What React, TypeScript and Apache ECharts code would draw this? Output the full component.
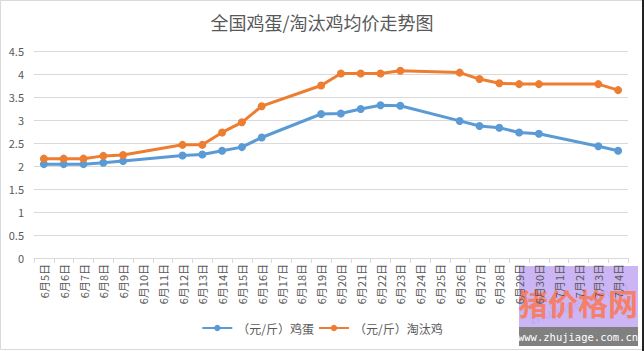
import React, { useEffect, useRef } from "react";
import * as echarts from "echarts";

const categories = [
  "6月5日", "6月6日", "6月7日", "6月8日", "6月9日", "6月10日", "6月11日", "6月12日", "6月13日", "6月14日",
  "6月15日", "6月16日", "6月17日", "6月18日", "6月19日", "6月20日", "6月21日", "6月22日", "6月23日", "6月24日",
  "6月25日", "6月26日", "6月27日", "6月28日", "6月29日", "6月30日", "7月1日", "7月2日", "7月3日", "7月4日",
];

const eggPrices = [
  2.04, 2.04, 2.04, 2.07, 2.11, null, null, 2.23, 2.25, 2.33,
  2.41, 2.62, null, null, 3.13, 3.14, 3.24, 3.32, 3.31, null,
  null, 2.98, 2.87, 2.83, 2.73, 2.70, null, null, 2.43, 2.33,
];

const henPrices = [
  2.16, 2.16, 2.16, 2.22, 2.24, null, null, 2.46, 2.46, 2.73,
  2.95, 3.30, null, null, 3.75, 4.01, 4.01, 4.01, 4.07, null,
  null, 4.03, 3.89, 3.80, 3.78, 3.78, null, null, 3.78, 3.65,
];

const seriesNames = ["（元/斤）鸡蛋", "（元/斤）淘汰鸡"];
const titleText = "全国鸡蛋/淘汰鸡均价走势图";
const yMin = 0;
const yMax = 4.5;
const yInterval = 0.5;

const FONT = "'Noto Sans CJK SC', 'Noto Sans', sans-serif";

export default function App() {
  const ref = useRef<HTMLDivElement>(null);

  useEffect(() => {
    if (!ref.current) return;
    const chart = echarts.init(ref.current, null, { renderer: "svg" });
    chart.setOption({
      animation: false,
      backgroundColor: "#ffffff",
      title: {
        text: titleText,
        left: "center",
        top: 8,
        textStyle: { fontFamily: FONT, fontSize: 18, fontWeight: "normal", color: "#595959" },
      },
      grid: { left: 34, right: 16, top: 51, bottom: 93, containLabel: false },
      legend: {
        bottom: 12,
        left: "center",
        itemWidth: 30,
        itemHeight: 8,
        itemGap: 4,
        textStyle: { fontFamily: FONT, fontSize: 12, color: "#595959" },
        data: seriesNames,
      },
      xAxis: {
        type: "category",
        data: categories,
        boundaryGap: true,
        axisLine: { lineStyle: { color: "#d9d9d9" } },
        axisTick: { show: true, lineStyle: { color: "#d9d9d9" } },
        axisLabel: {
          rotate: 90,
          interval: 0,
          fontFamily: FONT,
          fontSize: 11,
          color: "#595959",
          margin: 6,
        },
      },
      yAxis: {
        type: "value",
        min: yMin,
        max: yMax,
        interval: yInterval,
        axisLine: { show: false },
        axisTick: { show: false },
        splitLine: { lineStyle: { color: "#d9d9d9" } },
        axisLabel: { fontFamily: FONT, fontSize: 11, color: "#595959", margin: 10 },
      },
      series: [
        {
          name: seriesNames[0],
          type: "line",
          data: eggPrices,
          connectNulls: true,
          symbol: "circle",
          symbolSize: 8,
          itemStyle: { color: "#5b9bd5" },
          lineStyle: { color: "#5b9bd5", width: 3 },
        },
        {
          name: seriesNames[1],
          type: "line",
          data: henPrices,
          connectNulls: true,
          symbol: "circle",
          symbolSize: 8,
          itemStyle: { color: "#ed7d31" },
          lineStyle: { color: "#ed7d31", width: 3 },
        },
      ],
      graphic: [
        {
          type: "rect",
          z: 100,
          shape: { x: 0.5, y: 0.5, width: 642, height: 349 },
          style: { fill: "none", stroke: "#d9d9d9", lineWidth: 1 },
        },
        {
          type: "line",
          z: 100,
          shape: { x1: 643, y1: 0, x2: 643, y2: 351 },
          style: { stroke: "#222222", lineWidth: 2 },
        },
        {
          type: "group",
          z: 200,
          children: [
            {
              type: "rect",
              shape: { x: 519, y: 266, width: 119, height: 80 },
              style: { fill: "rgba(140,90,230,0.45)" },
            },
            {
              type: "text",
              x: 578,
              y: 302,
              rotation: 0.35,
              style: {
                text: "zhujiage.com.cn",
                fontFamily: FONT,
                fontSize: 13,
                fontWeight: "bold",
                fill: "rgba(190,170,245,0.8)",
                align: "center",
                verticalAlign: "middle",
              },
            },
            {
              type: "text",
              x: 578,
              y: 302,
              style: {
                text: "猪价格网",
                fontFamily: FONT,
                fontSize: 30,
                fontWeight: "bold",
                fill: "#f4806a",
                align: "center",
                verticalAlign: "middle",
              },
            },
            {
              type: "rect",
              shape: { x: 519, y: 327, width: 119, height: 19 },
              style: { fill: "#808080" },
            },
            {
              type: "text",
              x: 578,
              y: 337,
              style: {
                text: "www.zhujiage.com.cn",
                fontFamily: "'DejaVu Sans Mono', 'Liberation Mono', monospace",
                fontSize: 10.5,
                fill: "#ffffff",
                align: "center",
                verticalAlign: "middle",
              },
            },
          ],
        },
      ],
    });
    return () => chart.dispose();
  }, []);

  return (
    <div
      ref={ref}
      style={{ position: "absolute", left: 0, top: 0, width: 644, height: 351 }}
    />
  );
}
